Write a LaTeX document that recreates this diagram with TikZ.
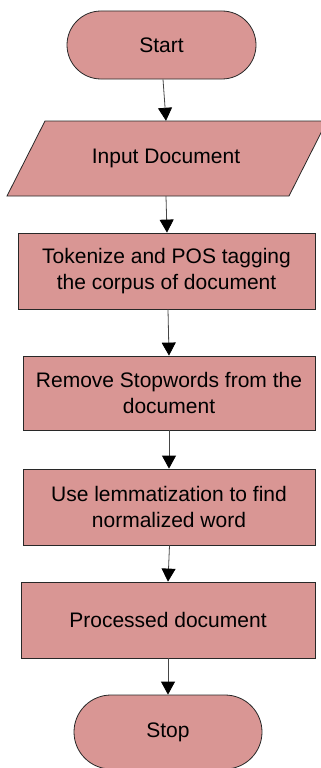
\documentclass[tikz,border=0pt]{standalone}
\usepackage{fontspec}
\setmainfont{Liberation Sans}
\usetikzlibrary{arrows.meta,shapes.misc}
\definecolor{boxfill}{RGB}{217,150,148}
\definecolor{boxline}{RGB}{40,40,40}
\definecolor{conline}{RGB}{70,70,70}
\tikzset{
  lbl/.style={font=\fontsize{21}{25.5}\selectfont, text=black, align=center, inner sep=0pt},
  procbox/.style={lbl, draw=boxline, fill=boxfill, line width=0.8pt, rectangle},
  termbox/.style={lbl, draw=boxline, fill=boxfill, line width=0.8pt, rounded rectangle},
  conn/.style={draw=conline, line width=0.8pt, -{Triangle[width=14pt,length=13pt,fill=black,color=black]}}
}
\begin{document}
\begin{tikzpicture}[x=1pt,y=-1pt]
\useasboundingbox (0,0) rectangle (321,768);
\clip (0,0) rectangle (321,768);
% Start
\node[termbox, minimum width=189pt, minimum height=68pt] (start) at (161.5,45) {Start};
% Input parallelogram
\fill[boxfill] (45,121) -- (327,121) -- (289,196) -- (7,196) -- cycle;
\draw[boxline, line width=0.8pt] (45,121) -- (327,121) -- (289,196) -- (7,196) -- cycle;
\node[lbl, minimum width=244pt, minimum height=75pt] (input) at (166,158.5) {Input Document};
% Process boxes
\node[procbox, minimum width=297pt, minimum height=76pt] (tok) at (166.5,271) {Tokenize and POS tagging\\the corpus of document};
\node[procbox, minimum width=292pt, minimum height=74pt] (rem) at (169,393) {Remove Stopwords from the\\document};
\node[procbox, minimum width=292pt, minimum height=76pt] (lem) at (169,507) {Use lemmatization to find\\normalized word};
\node[procbox, minimum width=294pt, minimum height=76pt] (proc) at (168,620) {Processed document};
% Stop
\node[termbox, minimum width=188pt, minimum height=74pt] (stop) at (168,732) {Stop};
% Connectors
\draw[conn] ([xshift=1.5pt]start.south) -- (input.north);
\draw[conn] (input.south) -- ([xshift=0.5pt]tok.north);
\draw[conn] ([xshift=1.5pt]tok.south) -- (rem.north);
\draw[conn] (rem.south) -- (lem.north);
\draw[conn] ([xshift=0.5pt]lem.south) -- (proc.north);
\draw[conn] (proc.south) -- (stop.north);
\end{tikzpicture}
\end{document}
